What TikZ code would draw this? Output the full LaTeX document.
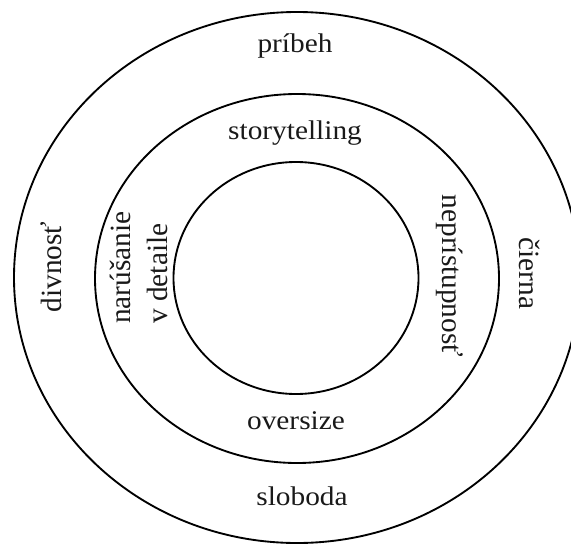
\documentclass[tikz,border=0pt]{standalone}
\usepackage{fontspec}
\setmainfont{Liberation Serif}
\begin{document}
\begin{tikzpicture}[x=0.75pt,y=-0.75pt,
  ring/.style={line width=1.4pt},
  lab/.style={font=\fontsize{22}{27.75}\selectfont, inner sep=0pt, text=black!90},
  hlab/.style={lab, yscale=0.92}]
\useasboundingbox (0,0) rectangle (571,543);
\clip (0,0) rectangle (571,543);
\draw[ring] (297,277.5) ellipse [x radius=283, y radius=265.5];
\draw[ring] (297,278.5) ellipse [x radius=202, y radius=184.5];
\draw[ring] (296,278) ellipse [x radius=122.5, y radius=116];
\node[hlab] (pribeh) at (295,46) {príbeh};
\node[hlab] (story) at (295,133) {storytelling};
\node[hlab] (over) at (296,421) {oversize};
\node[hlab] (slob) at (302,496) {sloboda};
\node[lab, rotate=90] (divn) at (51,267) {divnosť};
\node[lab, rotate=90, align=left] (narus) at (138.5,267.5) {narúšanie\\v detaile};
\node[lab, rotate=-90] (nepr) at (449.5,276) {neprístupnosť};
\node[lab, rotate=-90] (cier) at (529.5,273.5) {čierna};
\end{tikzpicture}
\end{document}
